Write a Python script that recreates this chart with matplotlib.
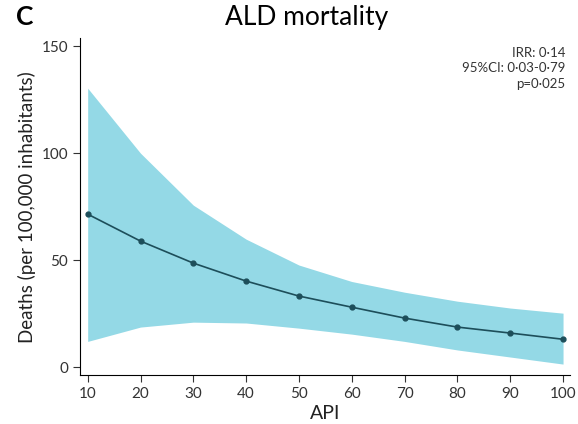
import matplotlib.pyplot as plt
import numpy as np

plt.rcParams['font.family'] = ['Lato', 'DejaVu Sans']

# data
api = [10, 20, 30, 40, 50, 60, 70, 80, 90, 100]
deaths = [71.5, 58.9, 48.6, 40.2, 33.2, 28.0, 22.9, 18.7, 15.9, 13.0]
ci_upper = [130.4, 100.0, 75.7, 59.8, 47.7, 40.0, 35.0, 30.8, 27.6, 25.2]
ci_lower = [12.0, 18.7, 21.0, 20.6, 18.2, 15.4, 12.0, 8.0, 4.7, 1.4]
yticks = [0, 50, 100, 150]
xticks = api

fig = plt.figure(figsize=(5.78, 4.24), dpi=100)
ax = fig.add_axes([0.138, 0.1156, 0.848, 0.794])

ax.fill_between(api, ci_lower, ci_upper, color='#94d9e6', linewidth=0)
ax.plot(api, deaths, color='#1d4e5a', lw=1.2, marker='o', ms=3.5)

ax.set_xlim(8.5, 101.3)
ax.set_ylim(-3.7, 153.7)
ax.set_xticks(xticks)
ax.set_yticks(yticks)
ax.spines['top'].set_visible(False)
ax.spines['right'].set_visible(False)
ax.tick_params(direction='out', length=5, labelsize=11, colors='#333333')
ax.set_xlabel('API', fontsize=14, color='#222222', labelpad=3)
ax.set_ylabel('Deaths (per 100,000 inhabitants)', fontsize=13.5, color='#222222', labelpad=4)

ax.text(0.99, 0.975, 'IRR: 0·14\n95%CI: 0·03-0·79\np=0·025', transform=ax.transAxes,
        ha='right', va='top', fontsize=9.5, color='#333333', linespacing=1.35)

fig.text(0.53, 0.94, 'ALD mortality', ha='center', fontsize=19)
fig.text(0.028, 0.94, 'C', fontsize=19, fontweight='bold')

fig.savefig('out.png', dpi=100)
